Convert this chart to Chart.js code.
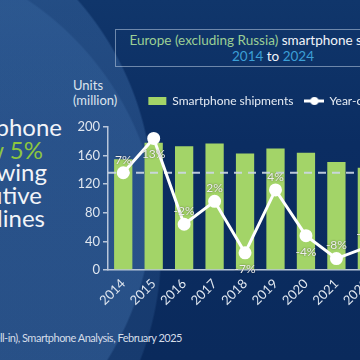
<!DOCTYPE html>
<html>
<head>
<meta charset="utf-8">
<script src="https://cdn.jsdelivr.net/npm/chart.js@4.4.1/dist/chart.umd.min.js"></script>
<style>
  html, body {
    margin: 0;
    padding: 0;
    width: 360px;
    height: 360px;
    overflow: hidden;
  }
  body {
    position: relative;
    font-family: Lato, "Open Sans", sans-serif;
    background:
      radial-gradient(circle at -150px 200px, rgba(80, 130, 190, 0.30) 0 302px, rgba(80, 130, 190, 0) 304px),
      radial-gradient(circle at -140px 250px, rgba(70, 120, 180, 0.22) 0 300px, rgba(70, 120, 180, 0) 302px),
      linear-gradient(180deg, #10366b 0%, #0b2d62 40%, #0a2a5c 100%);
  }
  .titlebox {
    position: absolute;
    left: 115px;
    top: 29px;
    width: 316px;
    height: 38px;
    border: 1px solid rgba(190, 205, 225, 0.55);
    box-sizing: border-box;
    text-align: center;
    font-size: 13.5px;
    line-height: 16px;
    padding-top: 2px;
    color: #f2f5fa;
    white-space: nowrap;
  }
  .green { color: #9bcf95; }
  .blue { color: #3c9fd6; }
  .units {
    position: absolute;
    left: 73px;
    top: 78px;
    font-size: 13px;
    line-height: 15px;
    color: #dce4ee;
  }
  .side {
    position: absolute;
    font-size: 24px;
    line-height: 24px;
    color: #f2f4f8;
    white-space: nowrap;
    text-align: right;
  }
  .side.hl { color: #8dc63f; }
  .note {
    position: absolute;
    right: 178px;
    top: 331px;
    font-size: 11px;
    letter-spacing: -0.5px;
    line-height: 14px;
    color: #d5dde8;
    white-space: nowrap;
  }
  #wrap {
    position: absolute;
    left: 60px;
    top: 83px;
    width: 466px;
    height: 227px;
  }
</style>
</head>
<body>

<div class="titlebox">
  <span class="green">Europe (excluding Russia)</span> smartphone shipments<br>
  <span class="blue">2014</span> to <span class="blue">2024</span>
</div>

<div class="units">Units<br>(million)</div>

<div class="side" style="right:298px; top:115px;">Smartphone</div>
<div class="side hl" style="right:317px; top:138px;">sales grew 5%</div>
<div class="side" style="right:313px; top:160px;">following</div>
<div class="side" style="right:318px; top:183px;">consecutive</div>
<div class="side" style="right:315px; top:206px;">declines</div>

<div class="note">Source: Canalys estimates (sell-in), Smartphone Analysis, February 2025</div>

<div id="wrap"><canvas id="chart"></canvas></div>

<script>
// data
const years = ['2014', '2015', '2016', '2017', '2018', '2019', '2020', '2021', '2022', '2023', '2024'];
const shipments = [155, 178, 173, 177, 163, 170, 164, 151, 143, 130, 136];
const growth = [7, 13, -2, 2, -7, 4, -4, -8, -6, -9, 5];
const growthText = growth.map(v => v + '%');
const labelSide = ['above', 'below', 'above', 'above', 'below', 'above', 'below', 'above', 'above', 'below', 'above'];

Chart.defaults.font.family = 'Lato, "Open Sans", sans-serif';

// legend symbol for the growth line: line with a dot
const lineIcon = document.createElement('canvas');
lineIcon.width = 20;
lineIcon.height = 10;
(function() {
    const c = lineIcon.getContext('2d');
    c.strokeStyle = '#ffffff';
    c.lineWidth = 3;
    c.beginPath();
    c.moveTo(0, 5);
    c.lineTo(20, 5);
    c.stroke();
    c.fillStyle = '#ffffff';
    c.beginPath();
    c.arc(10, 5, 4, 0, Math.PI * 2);
    c.fill();
})();

// more room under the legend so the plot starts lower
const legendSpace = {
    id: 'legendSpace',
    beforeInit(chart) {
        const origFit = chart.legend.fit;
        chart.legend.fit = function() {
            origFit.bind(chart.legend)();
            this.height += 10;
        };
    }
};

// dashed line at the 2024 level, over the bars but under the line
const refLine = {
    id: 'refLine',
    afterDatasetDraw(chart, args) {
        if (args.index !== 0) return;
        const ctx = chart.ctx;
        const area = chart.chartArea;
        const y = chart.scales.y.getPixelForValue(shipments[shipments.length - 1]);
        ctx.save();
        ctx.strokeStyle = 'rgba(205, 215, 230, 0.9)';
        ctx.lineWidth = 2;
        ctx.setLineDash([8, 6]);
        ctx.beginPath();
        ctx.moveTo(area.left, y);
        ctx.lineTo(area.right, y);
        ctx.stroke();
        ctx.restore();
    }
};

// percentage labels next to the growth points
const growthLabels = {
    id: 'growthLabels',
    afterDatasetsDraw(chart) {
        const meta = chart.getDatasetMeta(1);
        const ctx = chart.ctx;
        ctx.save();
        ctx.font = '12px Lato, "Open Sans", sans-serif';
        ctx.textAlign = 'center';
        ctx.textBaseline = 'middle';
        ctx.shadowColor = 'rgba(0, 0, 0, 0.55)';
        ctx.shadowBlur = 2;
        ctx.fillStyle = '#eeeeee';
        meta.data.forEach((pt, i) => {
            const dy = labelSide[i] === 'above' ? -13 : 16;
            ctx.fillText(growthText[i], pt.x, pt.y + dy);
        });
        ctx.restore();
    }
};

new Chart(document.getElementById('chart'), {
    data: {
        labels: years,
        datasets: [
            {
                type: 'bar',
                label: 'Smartphone shipments',
                data: shipments,
                backgroundColor: '#a3d468',
                borderWidth: 0,
                barPercentage: 0.6,
                categoryPercentage: 1,
                yAxisID: 'y',
                order: 2
            },
            {
                type: 'line',
                label: 'Year-on-year growth',
                data: growth,
                borderColor: '#ffffff',
                borderWidth: 3,
                pointRadius: 5,
                pointBackgroundColor: '#ffffff',
                pointBorderColor: '#ffffff',
                tension: 0,
                yAxisID: 'y2',
                order: 1
            }
        ]
    },
    options: {
        responsive: true,
        maintainAspectRatio: false,
        animation: false,
        layout: { padding: 0 },
        scales: {
            x: {
                grid: { display: false, drawTicks: false },
                border: { display: true, color: '#b8c6da', width: 1.5 },
                ticks: {
                    color: '#dfe6ef',
                    font: { size: 13 },
                    maxRotation: 45,
                    minRotation: 45,
                    padding: 6
                },
                afterFit(scale) { scale.height = 40; }
            },
            y: {
                position: 'left',
                min: 0,
                max: 200,
                ticks: {
                    stepSize: 20,
                    color: '#dfe6ef',
                    font: { size: 13 },
                    padding: 3
                },
                grid: {
                    drawOnChartArea: false,
                    drawTicks: true,
                    tickLength: 5,
                    color: '#b8c6da',
                    lineWidth: 1.5
                },
                border: { display: true, color: '#b8c6da', width: 1.5 },
                afterFit(scale) { scale.width = 48; }
            },
            y2: {
                position: 'right',
                min: -10,
                max: 15,
                ticks: { display: false },
                grid: { display: false, drawTicks: false },
                border: { display: false },
                afterFit(scale) { scale.width = 83; }
            }
        },
        plugins: {
            legend: {
                position: 'top',
                labels: {
                    color: '#e6ecf4',
                    font: { size: 12 },
                    padding: 12,
                    boxHeight: 8,
                    usePointStyle: true,
                    pointStyleWidth: 18,
                    generateLabels(chart) {
                        return chart.data.datasets.map((ds, i) => ({
                            text: ds.label,
                            datasetIndex: i,
                            fillStyle: ds.type === 'bar' ? ds.backgroundColor : '#ffffff',
                            strokeStyle: 'rgba(0,0,0,0)',
                            lineWidth: 0,
                            fontColor: '#e6ecf4',
                            pointStyle: ds.type === 'bar' ? 'rect' : lineIcon,
                            hidden: false
                        }));
                    }
                }
            },
            tooltip: { enabled: false }
        }
    },
    plugins: [legendSpace, refLine, growthLabels]
});
</script>
</body>
</html>
